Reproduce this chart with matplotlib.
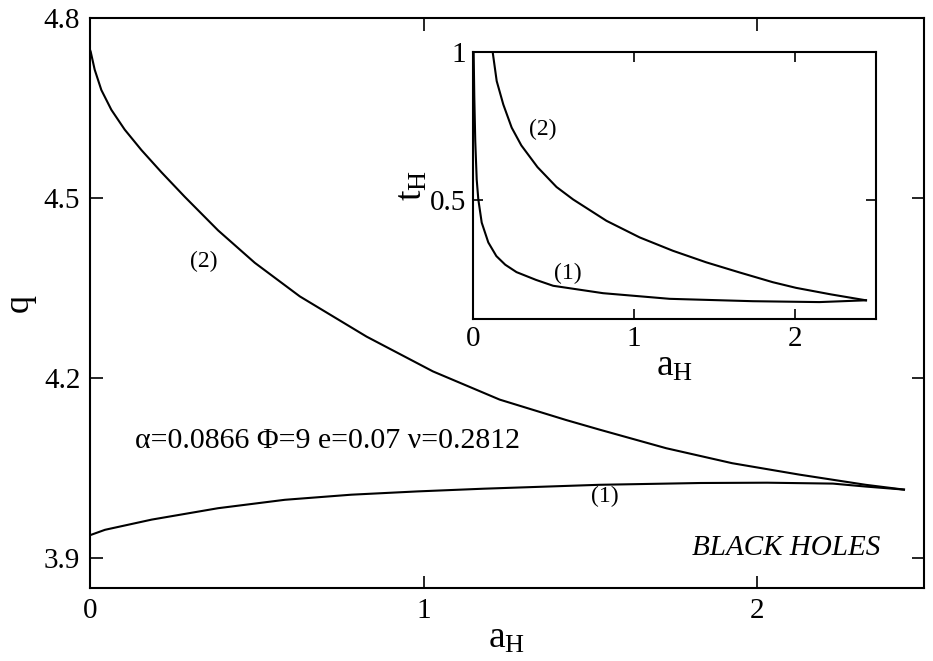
import matplotlib
matplotlib.use("Agg")
import matplotlib.pyplot as plt

plt.rcParams['font.family'] = 'serif'
plt.rcParams['font.serif'] = ['Liberation Serif', 'DejaVu Serif']
plt.rcParams['mathtext.fontset'] = 'custom'
plt.rcParams['mathtext.rm'] = 'Liberation Serif'
plt.rcParams['mathtext.it'] = 'Liberation Serif:italic'

# main panel: q vs a_H
a2 = [0.0, 0.002, 0.014, 0.034, 0.064, 0.104, 0.154, 0.214, 0.284, 0.384, 0.494,
      0.629, 0.829, 1.028, 1.228, 1.427, 1.527, 1.727, 1.925, 2.126, 2.325, 2.44]
q2 = [4.747, 4.744, 4.714, 4.680, 4.647, 4.614, 4.580, 4.543, 4.502, 4.446, 4.392,
      4.336, 4.269, 4.211, 4.164, 4.130, 4.114, 4.083, 4.058, 4.039, 4.022, 4.014]
a1 = [0.0, 0.045, 0.185, 0.384, 0.584, 0.783, 0.982, 1.18, 1.527, 1.83, 2.03,
      2.227, 2.327, 2.44]
q1 = [3.938, 3.947, 3.964, 3.983, 3.997, 4.0055, 4.011, 4.0155, 4.022, 4.025,
      4.0255, 4.024, 4.019, 4.014]

# inset: t_H vs a_H
ia2 = [0.122, 0.147, 0.188, 0.240, 0.300, 0.400, 0.518, 0.621, 0.828, 1.034, 1.240,
       1.447, 1.653, 1.860, 2.004, 2.220, 2.438]
it2 = [1.0, 0.902, 0.823, 0.745, 0.685, 0.612, 0.545, 0.503, 0.431, 0.375, 0.330,
       0.291, 0.257, 0.224, 0.205, 0.183, 0.163]
ia1 = [0.004, 0.008, 0.014, 0.023, 0.033, 0.054, 0.095, 0.145, 0.200, 0.270, 0.390,
       0.497, 0.807, 1.22, 1.736, 2.149, 2.438]
it1 = [1.0, 0.85, 0.70, 0.570, 0.503, 0.425, 0.358, 0.312, 0.283, 0.258, 0.232,
       0.212, 0.187, 0.168, 0.160, 0.157, 0.163]

main_xticks = [0, 1, 2]
main_yticks = [3.9, 4.2, 4.5, 4.8]
main_yticklabels = ['3.9', '4.2', '4.5', '4.8']
inset_xticks = [0, 1, 2]
inset_yticks = [0.5, 1.0]
inset_yticklabels = ['0.5', '1']

fig = plt.figure(figsize=(9.33, 6.61), dpi=100)
ax = fig.add_axes([90/933, 1-588/661, 834/933, 570/661])
ax.plot(a2, q2, color='black', lw=1.5)
ax.plot(a1, q1, color='black', lw=1.5)
ax.set_xlim(0, 2.5)
ax.set_ylim(3.85, 4.8)
ax.set_xticks(main_xticks)
ax.set_xticklabels([str(t) for t in main_xticks])
ax.set_yticks(main_yticks)
ax.set_yticklabels(main_yticklabels)
ax.tick_params(direction='in', length=9, width=1.2, top=True, right=True,
               labelsize=21, pad=7)
for s in ax.spines.values():
    s.set_linewidth(1.5)
ax.set_xlabel(r'$\mathregular{a_H}$', fontsize=27, labelpad=-2)
ax.set_ylabel('q', fontsize=26, labelpad=6)
ax.text(0.34, 4.394, '(2)', fontsize=17, ha='center', va='center')
ax.text(1.543, 4.002, '(1)', fontsize=17, ha='center', va='center')
ax.text(0.135, 4.084, 'α=0.0866 Φ=9 e=0.07 ν=0.2812', fontsize=21.5,
        ha='left', va='baseline')
ax.text(2.37, 3.917, 'BLACK HOLES', fontsize=21, style='italic',
        ha='right', va='center')

ins = fig.add_axes([473/933, 1-319/661, 403/933, 267/661])
ins.plot(ia2, it2, color='black', lw=1.5)
ins.plot(ia1, it1, color='black', lw=1.5)
ins.set_xlim(0, 2.5)
ins.set_ylim(0.1, 1.0)
ins.set_xticks(inset_xticks)
ins.set_xticklabels([str(t) for t in inset_xticks])
ins.set_yticks(inset_yticks)
ins.set_yticklabels(inset_yticklabels)
ins.tick_params(direction='in', length=7, width=1.2, top=True, right=True,
                labelsize=21, pad=5)
for s in ins.spines.values():
    s.set_linewidth(1.5)
ins.set_xlabel(r'$\mathregular{a_H}$', fontsize=27, labelpad=-2)
ins.set_ylabel(r'$\mathregular{t_H}$', fontsize=27, labelpad=0)
ins.text(0.433, 0.738, '(2)', fontsize=17, ha='center', va='center')
ins.text(0.586, 0.252, '(1)', fontsize=17, ha='center', va='center')

fig.savefig('out.png', dpi=100)
